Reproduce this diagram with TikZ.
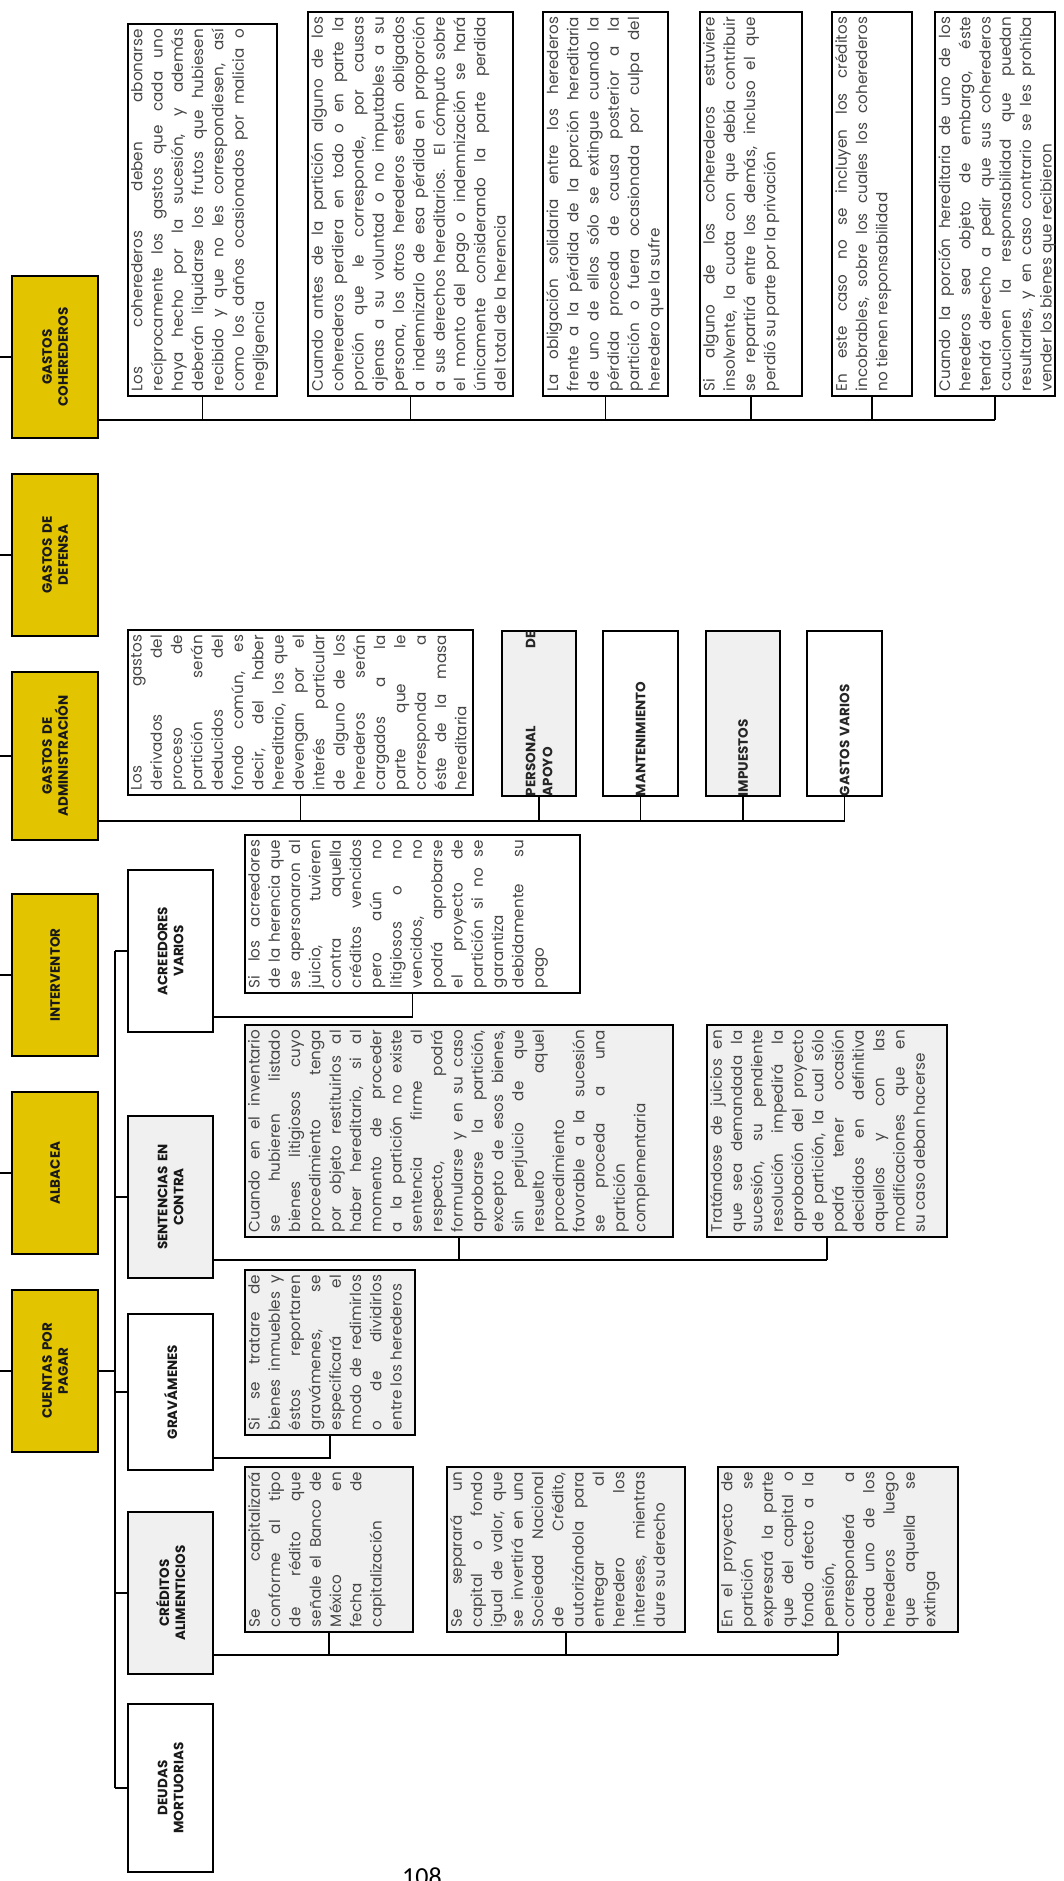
\documentclass[tikz,border=0pt]{standalone}
\usepackage{fontspec}
\setmainfont{Poppins}
\newfontfamily\folio{Carlito}
\usetikzlibrary{calc}

\definecolor{gold}{HTML}{E2C400}
\definecolor{pale}{HTML}{F0F0F0}
\definecolor{ink}{HTML}{454545}

% justified body text in a box of fixed size (line length, box depth)
\newcommand\para[3]{\parbox[c][#2pt][t]{#1pt}{\fontsize{15.2}{20.3}\selectfont
  \hyphenpenalty=10000 \exhyphenpenalty=10000 \tolerance=10000 \hbadness=10000
  \emergencystretch=3em\relax #3}}
% forced, justified line end
\newcommand\brk{\linebreak}

\tikzset{
  box/.style={shape=rectangle, draw=black, line width=2.3pt, rotate=90, anchor=center},
  cat/.style={box, fill=gold, inner sep=2pt, font=\fontsize{13.5}{16}\selectfont\bfseries,
    align=center, text=black!90},
  sub/.style={box, fill=white, inner sep=2pt, font=\fontsize{13.5}{16}\selectfont\bfseries,
    align=center, text=black!90},
  subgray/.style={sub, fill=pale},
  txt/.style={box, fill=white, inner xsep=5pt, inner ysep=3pt, text=ink},
  txtgray/.style={txt, fill=pale},
  item/.style={box, fill=white, inner sep=0pt, minimum width=165pt, text width=165pt,
    align=left, font=\fontsize{13.5}{17}\selectfont\bfseries, text=black!85},
  itemgray/.style={item, fill=pale},
  link/.style={line width=1.8pt, draw=black},
}

\begin{document}
\begin{tikzpicture}[x=1pt, y=-1pt]
\useasboundingbox (0,0) rectangle (1063,1881);
\fill[white] (0,0) rectangle (1063,1881);
\coordinate (edge) at (0,0);

% ---------------- first level (yellow) ----------------
\node[cat, minimum width=162pt, minimum height=86pt, text width=156pt] (ycoh) at (55,357) {GASTOS\\COHEREDEROS};
\node[cat, minimum width=162pt, minimum height=86pt, text width=156pt] (ydef) at (55,555) {GASTOS DE\\DEFENSA};
\node[cat, minimum width=168pt, minimum height=86pt, text width=162pt] (yadm) at (55,756) {GASTOS DE\\ADMINISTRACIÓN};
\node[cat, minimum width=162pt, minimum height=86pt, text width=156pt] (yint) at (55,975) {INTERVENTOR};
\node[cat, minimum width=162pt, minimum height=86pt, text width=156pt] (yalb) at (55,1173) {ALBACEA};
\node[cat, minimum width=162pt, minimum height=86pt, text width=156pt] (ycue) at (55,1371) {CUENTAS POR\\PAGAR};

\foreach \n in {ycoh,ydef,yadm,yint,yalb,ycue}
  \draw[link] (\n.north) -- (\n.north -| edge);

% ---------------- accounts payable ----------------
\node[sub, minimum width=162pt, minimum height=85pt, text width=156pt] (wacr) at (170.5,951) {ACREEDORES\\VARIOS};
\node[subgray, minimum width=162pt, minimum height=85pt, text width=156pt] (wsen) at (170.5,1197) {SENTENCIAS EN\\CONTRA};
\node[sub, minimum width=156pt, minimum height=85pt, text width=150pt] (wgra) at (170.5,1392) {GRAVÁMENES};
\node[subgray, minimum width=162pt, minimum height=85pt, text width=156pt] (wcre) at (170.5,1593) {CRÉDITOS\\ALIMENTICIOS};
\node[sub, minimum width=168pt, minimum height=85pt, text width=162pt] (wdeu) at (170.5,1788) {DEUDAS\\MORTUORIAS};

\coordinate (cbus) at (115,0);
\draw[link] (ycue.south) -- (ycue.south -| cbus);
\draw[link] (wacr.north -| cbus) -- (wdeu.north -| cbus);
\foreach \n in {wacr,wsen,wgra,wcre,wdeu}
  \draw[link] (\n.north -| cbus) -- (\n.north);

% ---------------- co-heirs ----------------
\node[txt] (c1) at (202.5,210) {\para{362}{143}{Los coherederos deben abonarse \brk recíprocamente los gastos que cada uno \brk haya hecho por la sucesión, y además \brk deberán liquidarse los frutos que hubiesen \brk recibido y que no les correspondiesen, así \brk como los daños ocasionados por malicia o \brk negligencia}};
\node[txt] (c2) at (410.5,204) {\para{374}{199}{Cuando antes de la partición alguno de los \brk coherederos perdiera en todo o en parte la \brk porción que le corresponde, por causas \brk ajenas a su voluntad o no imputables a su \brk persona, los otros herederos están obligados \brk a indemnizarlo de esa pérdida en proporción \brk a sus derechos hereditarios. El cómputo sobre \brk el monto del pago o indemnización se hará \brk únicamente considerando la parte perdida \brk del total de la herencia}};
\node[txt] (c3) at (605.5,204) {\para{374}{119}{La obligación solidaria entre los herederos \brk frente a la pérdida de la porción hereditaria \brk de uno de ellos sólo se extingue cuando la \brk pérdida proceda de causa posterior a la \brk partición o fuera ocasionada por culpa del \brk heredero que la sufre}};
\node[txt] (c4) at (751,204) {\para{374}{96}{Si alguno de los coherederos estuviere \brk insolvente, la cuota con que debía contribuir \brk se repartirá entre los demás, incluso el que \brk perdió su parte por la privación}};
\node[txt] (c5) at (872,204) {\para{374}{74}{En este caso no se incluyen los créditos \brk incobrables, sobre los cuales los coherederos \brk no tienen responsabilidad}};
\node[txt] (c6) at (995,204) {\para{374}{114}{Cuando la porción hereditaria de uno de los \brk herederos sea objeto de embargo, éste \brk tendrá derecho a pedir que sus coherederos \brk caucionen la responsabilidad que puedan \brk resultarles, y en caso contrario se les prohíba \brk vender los bienes que recibieron}};

\coordinate (cohY) at (0,420);
\draw[link] (ycoh.south |- cohY) -- (c6.west |- cohY);
\foreach \n in {c1,c2,c3,c4,c5,c6}
  \draw[link] (\n.west) -- (\n.west |- cohY);

% ---------------- administration ----------------
\node[txt] (a1) at (300.5,712.5) {\para{155}{339}{Los gastos \brk derivados del \brk proceso de \brk partición serán \brk deducidos del \brk fondo común, es \brk decir, del haber \brk hereditario, los que \brk devengan por el \brk interés particular \brk de alguno de los \brk herederos serán \brk cargados a la \brk parte que le \brk corresponda a \brk éste de la masa \brk hereditaria}};
\node[itemgray, minimum height=74pt] (a2) at (539,713.5) {PERSONAL\hfill DE\\APOYO};
\node[item, minimum height=75pt] (a3) at (640.5,713.5) {MANTENIMIENTO};
\node[itemgray, minimum height=74pt] (a4) at (743,713.5) {IMPUESTOS};
\node[item, minimum height=75pt] (a5) at (844.5,713.5) {GASTOS VARIOS};

\coordinate (admY) at (0,821);
\draw[link] (yadm.south |- admY) -- (a5.west |- admY);
\foreach \n in {a1,a2,a3,a4,a5}
  \draw[link] (\n.west) -- (\n.west |- admY);

% ---------------- creditors ----------------
\node[txt] (r1) at (412.5,914) {\para{148}{329}{Si los acreedores \brk de la herencia que \brk se apersonaron al \brk juicio, tuvieren \brk contra aquella \brk créditos vencidos \brk pero aún no \brk litigiosos o no \brk vencidos, no \brk podrá aprobarse \brk el proyecto de \brk partición si no se \brk garantiza \brk debidamente su \brk pago}};
\coordinate (acrY) at (0,1017);
\draw[link] (wacr.south |- acrY) -- (r1.west |- acrY) -- (r1.west);

% ---------------- judgments ----------------
\node[txtgray] (s1) at (459,1131) {\para{202}{422}{Cuando en el inventario \brk se hubieren listado \brk bienes litigiosos cuyo \brk procedimiento tenga \brk por objeto restituirlos al \brk haber hereditario, si al \brk momento de proceder \brk a la partición no existe \brk sentencia firme al \brk respecto, podrá \brk formularse y en su caso \brk aprobarse la partición, \brk excepto de esos bienes, \brk sin perjuicio de que \brk resuelto aquel \brk procedimiento \brk favorable a la sucesión \brk se proceda a una \brk partición \brk complementaria}};
\node[txtgray] (s2) at (827,1131) {\para{202}{234}{Tratándose de juicios en \brk que sea demandada la \brk sucesión, su pendiente \brk resolución impedirá la \brk aprobación del proyecto \brk de partición, la cual sólo \brk podrá tener ocasión \brk decididos en definitiva \brk aquellos y con las \brk modificaciones que en \brk su caso deban hacerse}};
\coordinate (senY) at (0,1260);
\draw[link] (wsen.south |- senY) -- (s2.west |- senY);
\foreach \n in {s1,s2}
  \draw[link] (\n.west) -- (\n.west |- senY);

% ---------------- liens ----------------
\node[txtgray] (g1) at (330,1352.5) {\para{155}{164}{Si se tratare de \brk bienes inmuebles y \brk éstos reportaren \brk gravámenes, se \brk especificará el \brk modo de redimirlos \brk o de dividirlos \brk entre los herederos}};
\coordinate (graY) at (0,1458);
\draw[link] (wgra.south |- graY) -- (g1.west |- graY) -- (g1.west);

% ---------------- maintenance credits ----------------
\node[txtgray] (k1) at (329,1549.5) {\para{155}{162}{Se capitalizará \brk conforme al tipo \brk de rédito que \brk señale el Banco de \brk México en \brk fecha de \brk capitalización}};
\node[txtgray] (k2) at (566,1549.5) {\para{155}{232}{Se separará un \brk capital o fondo \brk igual de valor, que \brk se invertirá en una \brk Sociedad Nacional \brk de Crédito, \brk autorizándola para \brk entregar al \brk heredero los \brk intereses, mientras \brk dure su derecho}};
\node[txtgray] (k3) at (838,1549.5) {\para{155}{234}{En el proyecto de \brk partición se \brk expresará la parte \brk que del capital o \brk fondo afecto a la \brk pensión, \brk corresponderá a \brk cada uno de los \brk herederos luego \brk que aquella se \brk extinga}};
\coordinate (creY) at (0,1655);
\draw[link] (wcre.south |- creY) -- (k3.west |- creY);
\foreach \n in {k1,k2,k3}
  \draw[link] (\n.west) -- (\n.west |- creY);

% ---------------- page number ----------------
\node[anchor=base, inner sep=0pt, font=\folio\fontsize{26}{30}\selectfont] (folio) at (422,1885) {108};
\end{tikzpicture}
\end{document}
